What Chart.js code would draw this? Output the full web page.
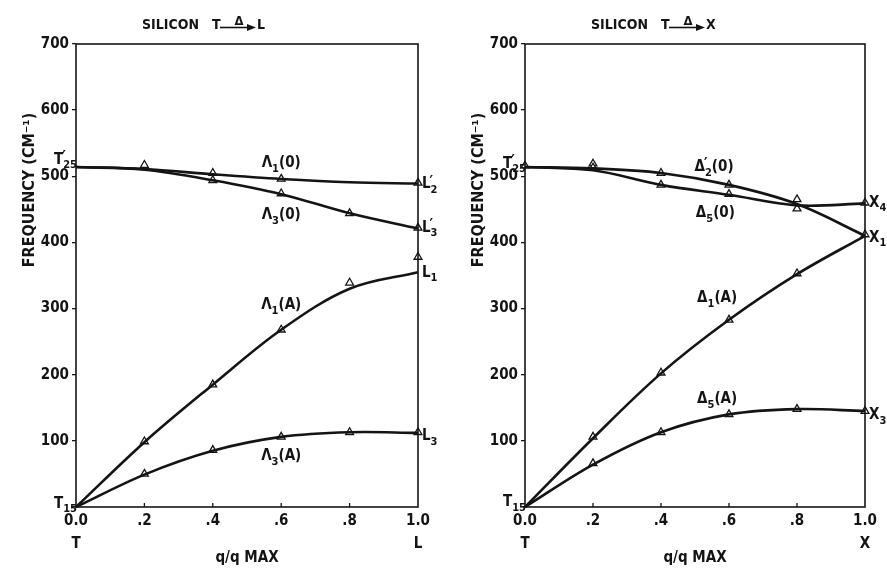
<!DOCTYPE html>
<html>
<head>
<meta charset="utf-8">
<script src="https://cdn.jsdelivr.net/npm/chart.js@4.4.0/dist/chart.umd.min.js"></script>
<style>
  html, body { margin: 0; padding: 0; background: #fff; }
  #wrap { position: relative; width: 887px; height: 572px; }
  .panel { position: absolute; top: 0; height: 572px; }
</style>
</head>
<body>
<div id="wrap">
  <div class="panel" style="left:0;width:443px"><canvas id="chartL" width="443" height="572"></canvas></div>
  <div class="panel" style="left:443px;width:444px"><canvas id="chartX" width="444" height="572"></canvas></div>
</div>
<script>
// reduced wave vector q/qmax along each direction
const qValues = [0, 0.2, 0.4, 0.6, 0.8, 1.0];

// T -> L (Lambda branches), frequency in cm-1
const lambdaOptic1 = [514, 511, 503, 496, 491, 489];
const lambdaOptic3 = [514, 510, 494, 473, 444, 421];
const lambdaAcoustic1 = [0, 98, 185, 268, 330, 355];
const lambdaAcoustic3 = [0, 49, 85, 106, 113, 112];
// measured points (triangles)
const lambdaMeasQ = [0.2, 0.4, 0.4, 0.6, 0.6, 0.8, 1.0, 1.0, 1.0, 0.8, 0.6, 0.4, 0.2, 0.2, 0.4, 0.6, 0.8, 1.0];
const lambdaMeasF = [517, 505, 494, 496, 474, 444, 490, 422, 378, 339, 268, 185, 99, 50, 86, 106, 113, 113];

// T -> X (Delta branches)
const deltaOptic2 = [514, 512, 505, 487, 458, 410];
const deltaOptic5 = [514, 509, 487, 472, 456, 459];
const deltaAcoustic1 = [0, 104, 202, 283, 352, 410];
const deltaAcoustic5 = [0, 64, 113, 140, 148, 145];
const deltaMeasQ = [0, 0.2, 0.2, 0.4, 0.4, 0.6, 0.6, 0.8, 0.8, 1.0, 1.0, 0.2, 0.4, 0.6, 0.8, 0.2, 0.4, 0.6, 0.8, 1.0];
const deltaMeasF = [516, 519, 513, 505, 487, 487, 473, 465, 451, 460, 412, 106, 203, 283, 353, 66, 113, 140, 148, 145];

// branch / point labels ('_' starts a subscript, "'" is a prime)
const lambdaLabels = [
    { text: 'Λ_1(0)', q: 0.6, f: 520, align: 'center' },
    { text: 'Λ_3(0)', q: 0.6, f: 441, align: 'center' },
    { text: 'Λ_1(A)', q: 0.6, f: 305, align: 'center' },
    { text: 'Λ_3(A)', q: 0.6, f: 77, align: 'center' },
    { text: "L'_2", q: 1, f: 488, align: 'left' },
    { text: "L'_3", q: 1, f: 422, align: 'left' },
    { text: 'L_1', q: 1, f: 354, align: 'left' },
    { text: 'L_3', q: 1, f: 107, align: 'left' },
    { text: "T'_25", q: 0, f: 525, align: 'right' },
    { text: 'T_15', q: 0, f: 5, align: 'right' }
];
const deltaLabels = [
    { text: "Δ'_2(0)", q: 0.556, f: 514, align: 'center' },
    { text: 'Δ_5(0)', q: 0.56, f: 444, align: 'center' },
    { text: 'Δ_1(A)', q: 0.565, f: 316, align: 'center' },
    { text: 'Δ_5(A)', q: 0.565, f: 163, align: 'center' },
    { text: 'X_4', q: 1, f: 460, align: 'left' },
    { text: 'X_1', q: 1, f: 407, align: 'left' },
    { text: 'X_3', q: 1, f: 139, align: 'left' },
    { text: "T'_25", q: 0, f: 519, align: 'right' },
    { text: 'T_15', q: 0, f: 7, align: 'right' }
];

const ink = '#141414';
const fontFamily = '"DejaVu Sans Condensed", "DejaVu Sans", sans-serif';

function curve(values) {
    return {
        type: 'line',
        data: values.map((v, i) => ({ x: qValues[i], y: v })),
        borderColor: ink,
        borderWidth: 2.6,
        pointRadius: 0,
        tension: 0.35,
        fill: false,
        clip: false
    };
}

function measured(qs, fs) {
    return {
        type: 'scatter',
        data: qs.map((q, i) => ({ x: q, y: fs[i] })),
        pointStyle: 'triangle',
        pointRadius: 4.5,
        borderColor: ink,
        borderWidth: 1.3,
        backgroundColor: '#fff',
        showLine: false,
        clip: false
    };
}

// split a label into pieces: normal text, subscripts and primes
function parseLabel(str) {
    const parts = [];
    let i = 0;
    while (i < str.length) {
        const c = str[i];
        if (c === '_') {
            let j = i + 1;
            while (j < str.length && /[0-9]/.test(str[j])) j++;
            parts.push({ kind: 'sub', t: str.slice(i + 1, j) });
            i = j;
        } else if (c === "'") {
            parts.push({ kind: 'prime', t: '′' });
            i++;
        } else {
            parts.push({ kind: 'text', t: c });
            i++;
        }
    }
    return parts;
}

function drawLabel(ctx, str, x, y, align, size) {
    const parts = parseLabel(str);
    const mainFont = 'bold ' + size + 'px ' + fontFamily;
    const subFont = 'bold ' + Math.round(size * 0.72) + 'px ' + fontFamily;
    // measure, stacking a prime over the following subscript
    const widths = parts.map(p => {
        ctx.font = p.kind === 'sub' ? subFont : mainFont;
        return ctx.measureText(p.t).width;
    });
    let total = 0;
    const offs = [];
    for (let k = 0; k < parts.length; k++) {
        offs.push(total);
        if (parts[k].kind === 'prime' && parts[k + 1] && parts[k + 1].kind === 'sub') {
            offs.push(total);
            total += Math.max(widths[k] * 0.6, widths[k + 1]);
            k++;
        } else {
            total += widths[k];
        }
    }
    let start = x;
    if (align === 'center') start = x - total / 2;
    if (align === 'right') start = x - total;
    ctx.textAlign = 'left';
    ctx.textBaseline = 'middle';
    parts.forEach((p, k) => {
        if (p.kind === 'sub') {
            ctx.font = subFont;
            ctx.fillText(p.t, start + offs[k], y + size * 0.38);
        } else if (p.kind === 'prime') {
            ctx.font = mainFont;
            ctx.fillText(p.t, start + offs[k] - 1, y - size * 0.1);
        } else {
            ctx.font = mainFont;
            ctx.fillText(p.t, start + offs[k], y);
        }
    });
}

// frame, inward ticks, labels and titles
const paperPlugin = {
    id: 'paper',
    afterDraw(chart, args, opts) {
        const ctx = chart.ctx;
        const area = chart.chartArea;
        const xs = chart.scales.x, ys = chart.scales.y;
        ctx.save();
        ctx.strokeStyle = ink;
        ctx.fillStyle = ink;
        ctx.lineWidth = 1.6;
        ctx.strokeRect(area.left, area.top, area.right - area.left, area.bottom - area.top);

        // small ticks pointing into the plot on the q axis
        ctx.lineWidth = 1.3;
        [0.2, 0.4, 0.6, 0.8].forEach(q => {
            const px = xs.getPixelForValue(q);
            ctx.beginPath();
            ctx.moveTo(px, area.bottom);
            ctx.lineTo(px, area.bottom - 4);
            ctx.stroke();
        });

        // curve labels
        opts.labels.forEach(l => {
            let px = xs.getPixelForValue(l.q);
            if (l.align === 'left') px += 4;
            if (l.align === 'right') px += 1;
            drawLabel(ctx, l.text, px, ys.getPixelForValue(l.f), l.align, 15);
        });

        // y title
        ctx.save();
        ctx.translate(area.left - 46, area.top + 146);
        ctx.rotate(-Math.PI / 2);
        ctx.font = 'bold 16px ' + fontFamily;
        ctx.textAlign = 'center';
        ctx.textBaseline = 'middle';
        ctx.fillText('FREQUENCY (CM⁻¹)', 0, 0);
        ctx.restore();

        // top title: SILICON T -Δ-> L
        const x0 = area.left + 66;
        ctx.font = 'bold 14px ' + fontFamily;
        ctx.textAlign = 'left';
        ctx.textBaseline = 'middle';
        ctx.fillText('SILICON', x0, 25);
        ctx.fillText('T', x0 + 70, 25);
        ctx.lineWidth = 1.6;
        ctx.beginPath();
        ctx.moveTo(x0 + 78, 27.5);
        ctx.lineTo(x0 + 107, 27.5);
        ctx.stroke();
        ctx.beginPath();
        ctx.moveTo(x0 + 114, 27.5);
        ctx.lineTo(x0 + 105, 24);
        ctx.lineTo(x0 + 105, 31);
        ctx.closePath();
        ctx.fill();
        ctx.font = 'bold 13px ' + fontFamily;
        ctx.textAlign = 'center';
        ctx.textBaseline = 'alphabetic';
        ctx.fillText('Δ', x0 + 97, 25);
        ctx.font = 'bold 14px ' + fontFamily;
        ctx.textAlign = 'left';
        ctx.textBaseline = 'middle';
        ctx.fillText(opts.endPoint, x0 + 115, 25);
        ctx.restore();
    }
};

function makeChart(canvasId, curves, measQ, measF, labels, endPoint, axisWidth, rightPad) {
    const ctx = document.getElementById(canvasId).getContext('2d');
    return new Chart(ctx, {
        data: {
            datasets: curves.map(curve).concat([measured(measQ, measF)])
        },
        options: {
            responsive: false,
            animation: false,
            devicePixelRatio: 1,
            layout: {
                padding: { top: 44, right: rightPad, bottom: 0, left: 0 }
            },
            scales: {
                x: {
                    type: 'linear',
                    min: 0,
                    max: 1,
                    border: { display: false },
                    grid: { drawOnChartArea: false, drawTicks: false },
                    ticks: {
                        stepSize: 0.2,
                        padding: 3,
                        color: ink,
                        maxRotation: 0,
                        font: { family: fontFamily, size: 15, weight: 'bold', lineHeight: 1.53 },
                        callback: function(value) {
                            const s = value.toFixed(1);
                            if (s === '0.0') return ['0.0', 'T'];
                            if (s === '1.0') return ['1.0', endPoint];
                            return s.slice(1);
                        }
                    },
                    title: {
                        display: true,
                        text: 'q/q MAX',
                        color: ink,
                        padding: { top: 0, bottom: 5 },
                        font: { family: fontFamily, size: 15, weight: 'bold' }
                    },
                    afterFit: function(axis) { axis.height = 65; }
                },
                y: {
                    min: 0,
                    max: 700,
                    border: { display: false },
                    grid: {
                        drawOnChartArea: false,
                        drawTicks: true,
                        tickLength: 4,
                        color: ink,
                        lineWidth: 1.3
                    },
                    ticks: {
                        stepSize: 100,
                        padding: 3,
                        color: ink,
                        font: { family: fontFamily, size: 15, weight: 'bold' },
                        callback: function(value) { return value === 0 ? '' : value; }
                    },
                    afterFit: function(axis) { axis.width = axisWidth; }
                }
            },
            plugins: {
                legend: { display: false },
                tooltip: { enabled: false },
                paper: { labels: labels, endPoint: endPoint }
            }
        },
        plugins: [paperPlugin]
    });
}

makeChart('chartL', [lambdaOptic1, lambdaOptic3, lambdaAcoustic1, lambdaAcoustic3],
    lambdaMeasQ, lambdaMeasF, lambdaLabels, 'L', 76, 25);
makeChart('chartX', [deltaOptic2, deltaOptic5, deltaAcoustic1, deltaAcoustic5],
    deltaMeasQ, deltaMeasF, deltaLabels, 'X', 82, 22);
</script>
</body>
</html>
